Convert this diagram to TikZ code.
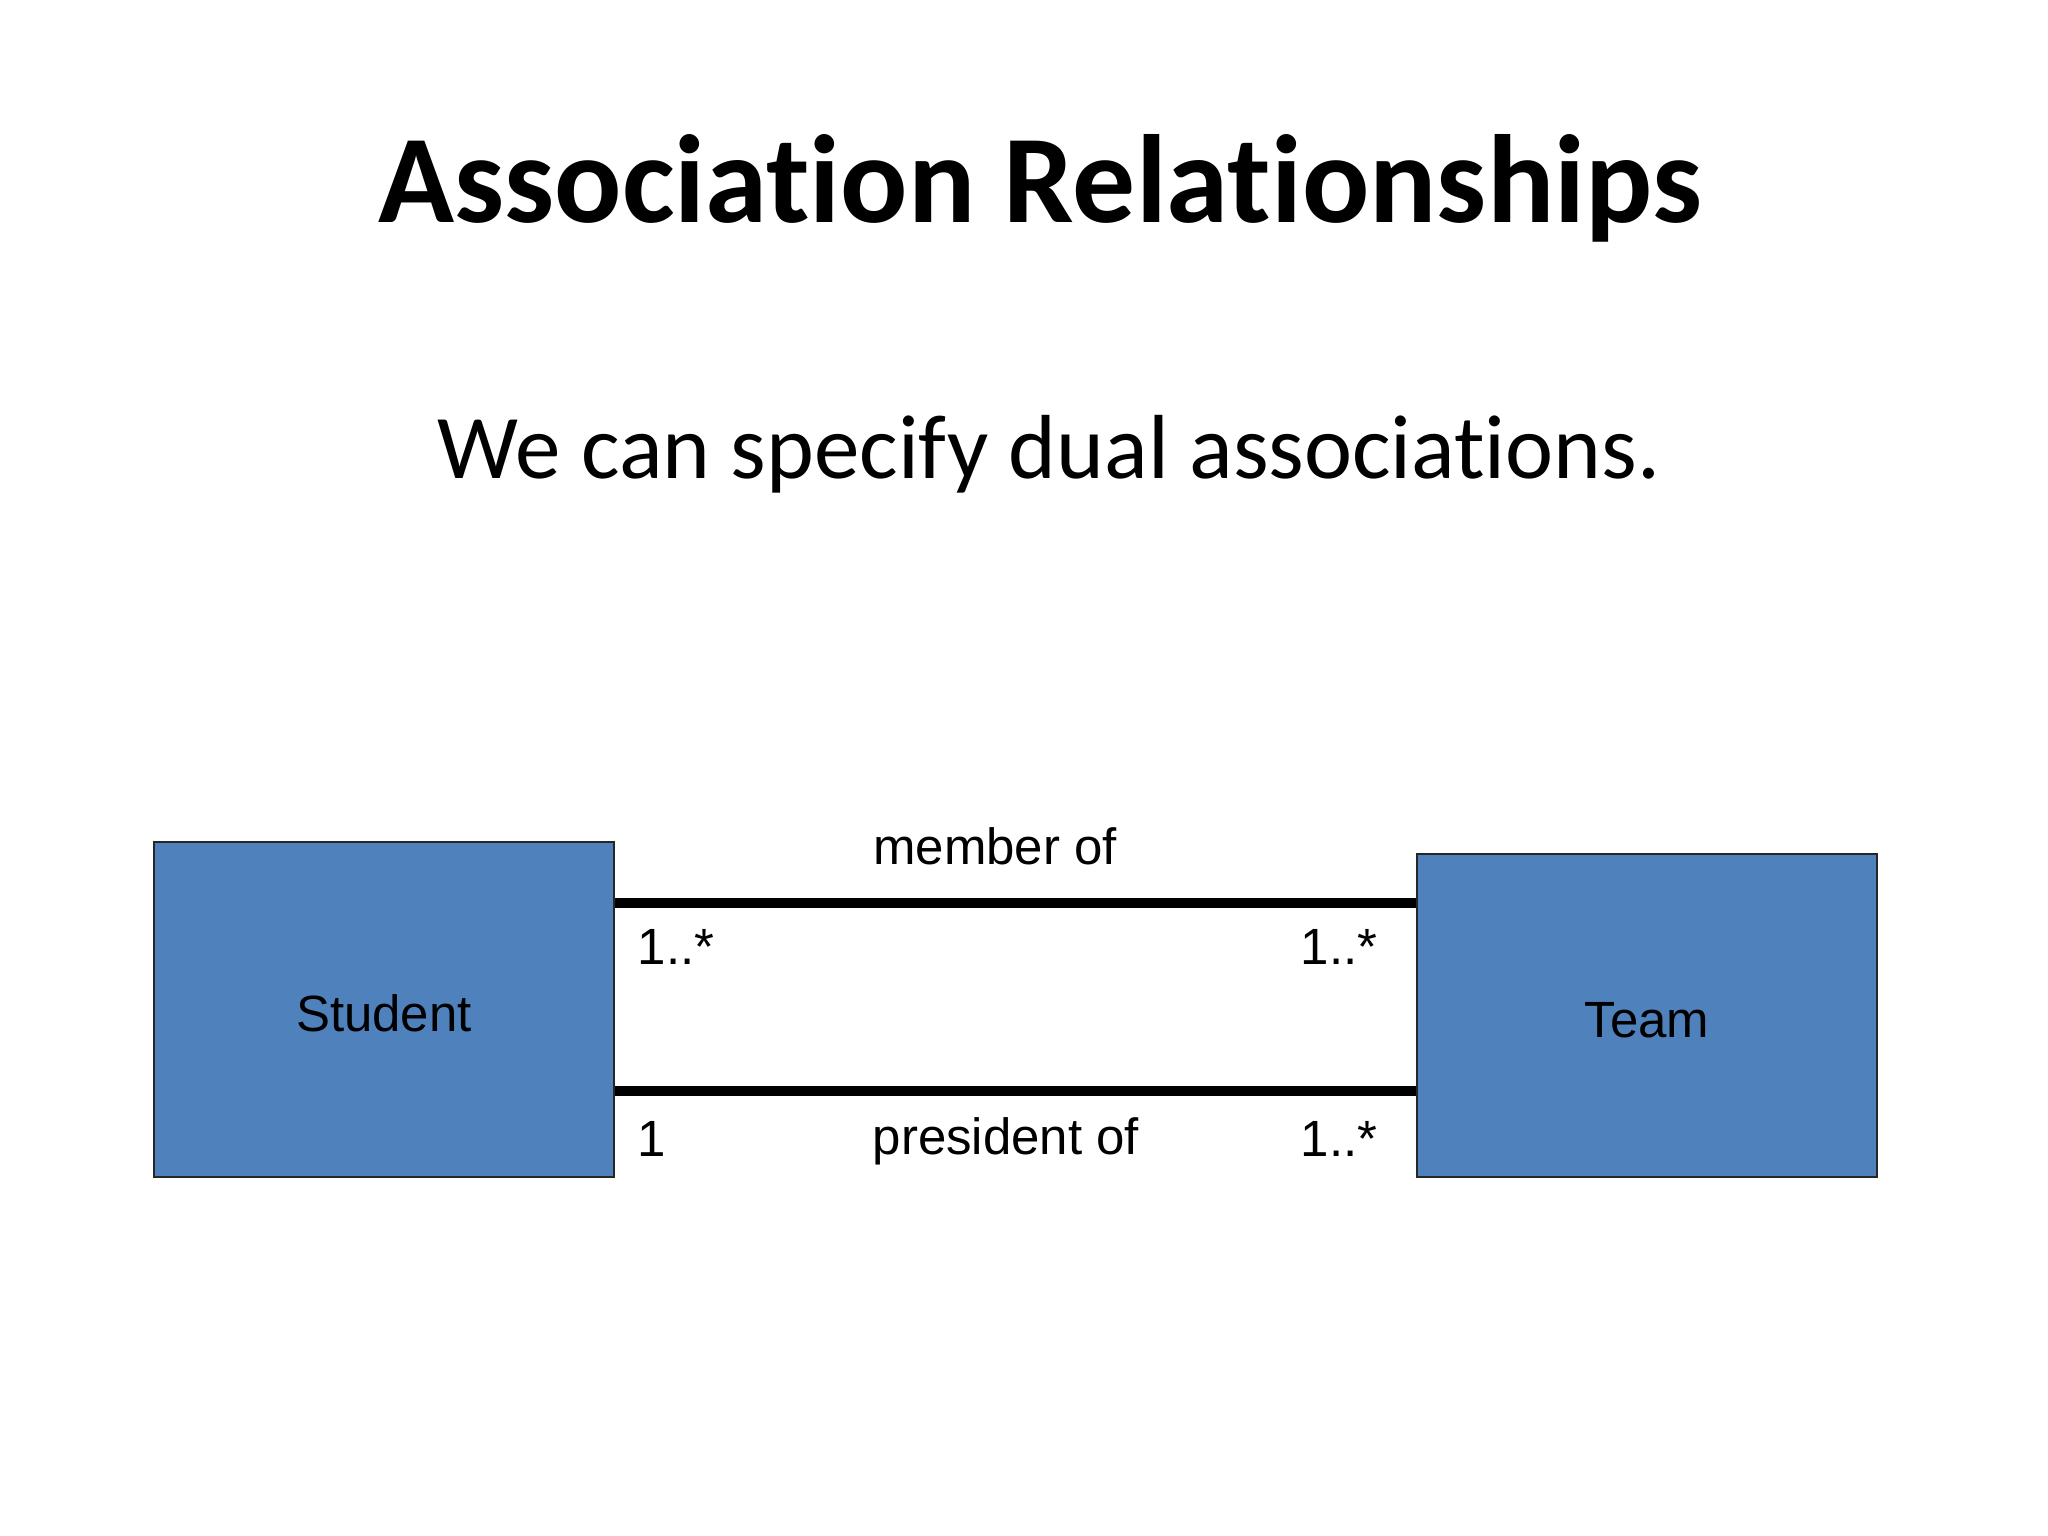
\documentclass[tikz,border=0pt]{standalone}
\usepackage{fontspec}
\setmainfont{Liberation Sans}
\newfontfamily\titlefont[Ligatures=NoCommon]{Carlito}
\usepackage{tikz}
\definecolor{boxblue}{RGB}{79,129,189}

\begin{document}
\begin{tikzpicture}[
  cls/.style={draw=black!85,fill=boxblue,line width=0.8pt,minimum width=4.6cm,
    inner sep=0pt,font=\fontsize{14.5}{17}\selectfont},
  assoc/.style={line width=2.6pt},
  lbl/.style={inner sep=0pt,font=\fontsize{14.5}{17}\selectfont}]
\useasboundingbox (0,0) rectangle (20.48,-15.36);
\node[font=\titlefont\bfseries\fontsize{35.7}{42}\selectfont] (title) at (10.40,-1.88) {Association Relationships};
\node[font=\titlefont\fontsize{25.9}{31}\selectfont] (sub) at (10.49,-4.54) {We can specify dual associations.};
\node[cls,minimum height=3.35cm] (student) at (3.84,-10.095) {};
\node[cls,minimum height=3.23cm] (team) at (16.47,-10.155) {};
\node[lbl] (sname) at (3.84,-10.13) {Student};
\node[lbl] (tname) at (16.47,-10.20) {Team};
\coordinate (t) at (0,-9.03); \coordinate (b) at (0,-10.91);
\draw[assoc] (student.east |- t) -- (team.west |- t);
\draw[assoc] (student.east |- b) -- (team.west |- b);
\node[lbl] (member) at (9.95,-8.46) {member of};
\node[lbl] (president) at (10.06,-11.41) {president of};
\node[lbl,anchor=west] (m1) at (6.37,-9.47) {1..*};
\node[lbl,anchor=east] (m2) at (13.78,-9.47) {1..*};
\node[lbl,anchor=west] (p1) at (6.37,-11.39) {1};
\node[lbl,anchor=east] (p2) at (13.78,-11.39) {1..*};
\end{tikzpicture}
\end{document}
